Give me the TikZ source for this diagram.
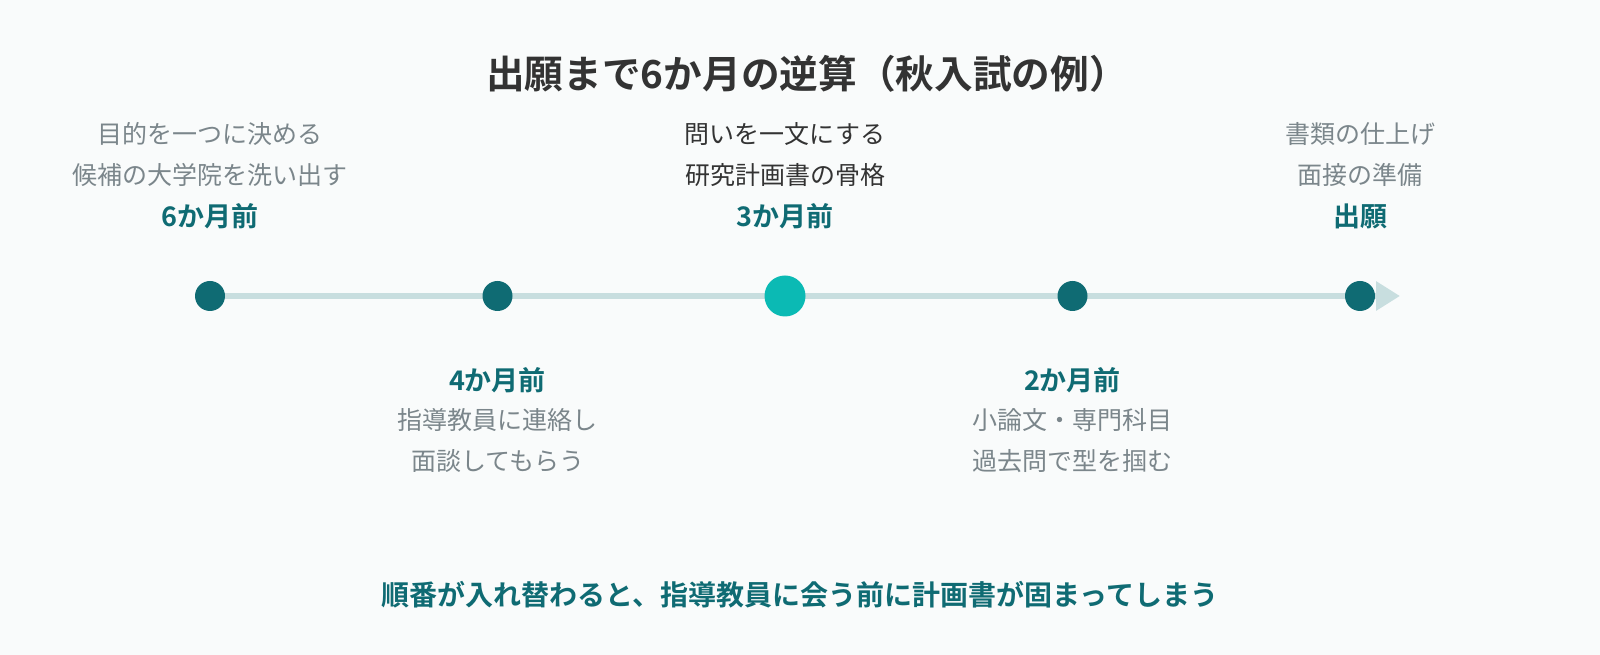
\documentclass[tikz,border=0pt]{standalone}
\usepackage{fontspec}
\setmainfont{Noto Sans CJK JP}[BoldFont={Noto Sans CJK JP Bold}]
\usepackage{tikz}
\usetikzlibrary{arrows.meta}
\usetikzlibrary{positioning, backgrounds}

\definecolor{paper}{HTML}{F9FBFB}
\definecolor{deepteal}{HTML}{0F6B73}
\definecolor{brightteal}{HTML}{0BBAB4}
\definecolor{railc}{HTML}{C8DEDF}
\definecolor{muted}{HTML}{7B868B}
\definecolor{ink}{HTML}{333333}

\begin{document}
\begin{tikzpicture}[x=0.75pt,y=0.75pt,node distance=215.625pt,
  dot/.style={circle,fill=deepteal,minimum size=22.5pt,inner sep=0pt},
  hub/.style={circle,fill=brightteal,minimum size=30.75pt,inner sep=0pt},
  note/.style={text=muted,inner sep=0pt,font=\fontsize{18.75pt}{22pt}\selectfont},
  when/.style={text=deepteal,inner sep=0pt,font=\fontsize{20.25pt}{24pt}\selectfont\bfseries},
  headline/.style={text=ink,inner sep=0pt,font=\fontsize{29pt}{34pt}\selectfont\bfseries},
  moral/.style={text=deepteal,inner sep=0pt,font=\fontsize{21pt}{25pt}\selectfont\bfseries},
  rail/.style={draw=railc,line width=4.5pt,-{Triangle[length=18pt,width=21pt]}}]
  \useasboundingbox (0,0) rectangle (1600,-655);

  \node[headline] (head) at (807,-73.5) {出願まで6か月の逆算（秋入試の例）};

  % timeline
  \node[dot]  (d6) at (210,-296) {};
  \node[dot]  (d4) [right of=d6] {};
  \node[hub]  (d3) [right of=d4] {};
  \node[dot]  (d2) [right of=d3] {};
  \node[dot]  (d0) [right of=d2] {};
  \node[coordinate] (tip) [right of=d0, node distance=30pt] {};

  \begin{scope}[on background layer]
    \fill[paper] (0,0) rectangle (1600,-655);
    \path[rail] (d6.center) -- (tip);
  \end{scope}

  % above
  \node[when] (w6) [above of=d6, node distance=60pt]    {6か月前};
  \node[note] (b6) [above of=d6, node distance=91pt]    {候補の大学院を洗い出す};
  \node[note] (a6) [above of=d6, node distance=121.5pt] {目的を一つに決める};

  \node[when] (w3) [above of=d3, node distance=60pt]    {3か月前};
  \node[note,text=ink] (b3) [above of=d3, node distance=91pt]    {研究計画書の骨格};
  \node[note,text=ink] (a3) [above of=d3, node distance=121.5pt] {問いを一文にする};

  \node[when] (w0) [above of=d0, node distance=60pt]    {出願};
  \node[note] (b0) [above of=d0, node distance=91pt]    {面接の準備};
  \node[note] (a0) [above of=d0, node distance=121.5pt] {書類の仕上げ};

  % below
  \node[when] (w4) [below of=d4, node distance=63pt]     {4か月前};
  \node[note] (a4) [below of=d4, node distance=93pt]     {指導教員に連絡し};
  \node[note] (b4) [below of=d4, node distance=123.75pt] {面談してもらう};

  \node[when] (w2) [below of=d2, node distance=63pt]     {2か月前};
  \node[note] (a2) [below of=d2, node distance=93pt]     {小論文・専門科目};
  \node[note] (b2) [below of=d2, node distance=123.75pt] {過去問で型を掴む};

  \node[moral] (foot) at (800,-595) {順番が入れ替わると、指導教員に会う前に計画書が固まってしまう};
\end{tikzpicture}
\end{document}
